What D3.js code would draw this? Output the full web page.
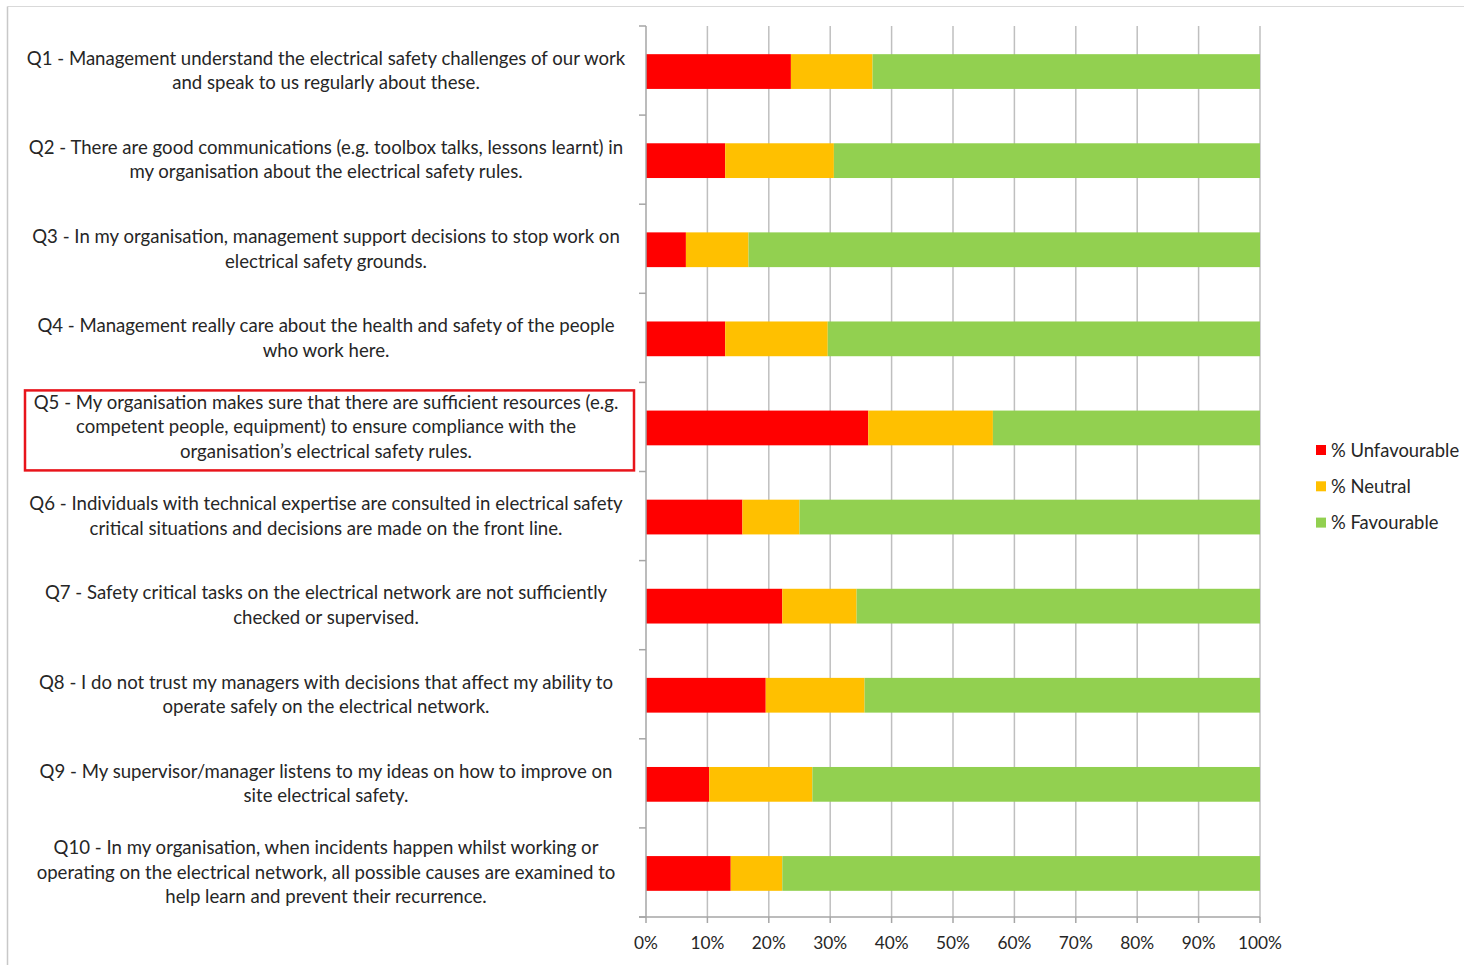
<!DOCTYPE html>
<html>
<head>
<meta charset="utf-8">
<script src="https://cdn.jsdelivr.net/npm/d3@7"></script>
<style>
  html, body { margin: 0; padding: 0; background: #fff; }
  svg { display: block; }
  text { font-family: Lato, "Open Sans", sans-serif; fill: #262626; }
</style>
</head>
<body>
<svg id="chart" width="1464" height="965"></svg>
<script>
const questions = ["Q1","Q2","Q3","Q4","Q5","Q6","Q7","Q8","Q9","Q10"];
const labelLines = [
  ["Q1 - Management understand the electrical safety challenges of our work", "and speak to us regularly about these."],
  ["Q2 - There are good communications (e.g. toolbox talks, lessons learnt) in", "my organisation about the electrical safety rules."],
  ["Q3 - In my organisation, management support decisions to stop work on", "electrical safety grounds."],
  ["Q4 - Management really care about the health and safety of the people", "who work here."],
  ["Q5 - My organisation makes sure that there are sufficient resources (e.g.", "competent people, equipment) to ensure compliance with the", "organisation\u2019s electrical safety rules."],
  ["Q6 - Individuals with technical expertise are consulted in electrical safety", "critical situations and decisions are made on the front line."],
  ["Q7 - Safety critical tasks on the electrical network are not sufficiently", "checked or supervised."],
  ["Q8 - I do not trust my managers with decisions that affect my ability to", "operate safely on the electrical network."],
  ["Q9 - My supervisor/manager listens to my ideas on how to improve on", "site electrical safety."],
  ["Q10 - In my organisation, when incidents happen whilst working or", "operating on the electrical network, all possible causes are examined to", "help learn and prevent their recurrence."]
];
const unfavourable = [23.6, 12.9, 6.5, 12.9, 36.2, 15.7, 22.2, 19.5, 10.3, 13.8];
const neutral      = [13.3, 17.7, 10.2, 16.7, 20.3,  9.3, 12.1, 16.1, 16.8,  8.4];
const favourable   = [63.1, 69.4, 83.3, 70.4, 43.5, 75.0, 65.7, 64.4, 72.9, 77.8];
const seriesNames  = ["% Unfavourable", "% Neutral", "% Favourable"];
const seriesColors = ["#FF0000", "#FFC000", "#92D050"];
const xTicks = [0,10,20,30,40,50,60,70,80,90,100];
const highlighted = "Q5";

(function () {
const svg = d3.select("#chart");
const pLeft = 646, pRight = 1260, pTop = 26, pBottom = 917;

// frame
svg.append("line").attr("x1", 7.5).attr("x2", 1464).attr("y1", 6.5).attr("y2", 6.5).attr("stroke", "#D9D9D9").attr("stroke-width", 1);
svg.append("line").attr("x1", 7.5).attr("x2", 7.5).attr("y1", 6.5).attr("y2", 965).attr("stroke", "#C8C8C8").attr("stroke-width", 1.5);

const x = d3.scaleLinear().domain([0, 100]).range([pLeft, pRight]);
const y = d3.scaleBand().domain(questions).range([pTop, pBottom]).padding(0);
const bw = y.bandwidth();
const barH = bw * 0.39;

// gridlines
svg.append("g").selectAll("line").data(xTicks.filter(d => d > 0)).join("line")
  .attr("x1", d => x(d)).attr("x2", d => x(d))
  .attr("y1", pTop).attr("y2", pBottom)
  .attr("stroke", "#BFBFBF").attr("stroke-width", 1.5);

// stacked data
const rows = questions.map((q, i) => ({ q, v: [unfavourable[i], neutral[i], favourable[i]] }));
const stack = rows.map(r => {
  let acc = 0;
  return r.v.map((v, k) => { const s = acc; acc += v; return { q: r.q, k, x0: s, x1: acc }; });
});

svg.append("g").selectAll("g").data(stack).join("g")
  .selectAll("rect").data(d => d).join("rect")
  .attr("x", d => x(d.x0))
  .attr("width", d => x(d.x1) - x(d.x0))
  .attr("y", d => y(d.q) + (bw - barH) / 2 + 1)
  .attr("height", barH)
  .attr("fill", d => seriesColors[d.k]);

// y axis line with ticks at band boundaries
const axisColor = "#A6A6A6";
svg.append("line").attr("x1", pLeft).attr("x2", pLeft).attr("y1", pTop).attr("y2", pBottom)
  .attr("stroke", axisColor).attr("stroke-width", 1.5);
const bounds = questions.map(q => y(q)).concat([pBottom]);
svg.append("g").selectAll("line").data(bounds).join("line")
  .attr("x1", pLeft - 7).attr("x2", pLeft)
  .attr("y1", d => d).attr("y2", d => d)
  .attr("stroke", axisColor).attr("stroke-width", 1.5);

// x axis
svg.append("line").attr("x1", pLeft - 7).attr("x2", pRight).attr("y1", pBottom).attr("y2", pBottom)
  .attr("stroke", axisColor).attr("stroke-width", 1.5);
svg.append("g").selectAll("line").data(xTicks).join("line")
  .attr("x1", d => x(d)).attr("x2", d => x(d))
  .attr("y1", pBottom).attr("y2", pBottom + 6)
  .attr("stroke", axisColor).attr("stroke-width", 1.5);
svg.append("g").selectAll("text").data(xTicks).join("text")
  .attr("x", d => x(d)).attr("y", 949)
  .attr("text-anchor", "middle")
  .attr("font-size", 17.3)
  .text(d => d + "%");

// category labels
const labelX = 326;
const lineH = 24.5;
const lg = svg.append("g");
questions.forEach((q, i) => {
  const lines = labelLines[i];
  const cy = y(q) + bw / 2;
  const t = lg.append("text").attr("text-anchor", "middle").attr("font-size", 18.6);
  lines.forEach((ln, j) => {
    t.append("tspan").attr("x", labelX)
      .attr("y", cy + (j - (lines.length - 1) / 2) * lineH + 6.5)
      .text(ln);
  });
  if (q === highlighted) {
    svg.append("rect")
      .attr("x", 25).attr("y", y(q) + 8)
      .attr("width", 609).attr("height", 80)
      .attr("fill", "none").attr("stroke", "#E8141B").attr("stroke-width", 2.5);
  }
});

// legend
const leg = svg.append("g");
seriesNames.forEach((n, i) => {
  const ly = 450 + i * 36.3;
  leg.append("rect").attr("x", 1316).attr("y", ly - 5).attr("width", 10).attr("height", 10).attr("fill", seriesColors[i]);
  leg.append("text").attr("x", 1331).attr("y", ly + 6.5).attr("font-size", 18.4).text(n);
});
})();
</script>
</body>
</html>
